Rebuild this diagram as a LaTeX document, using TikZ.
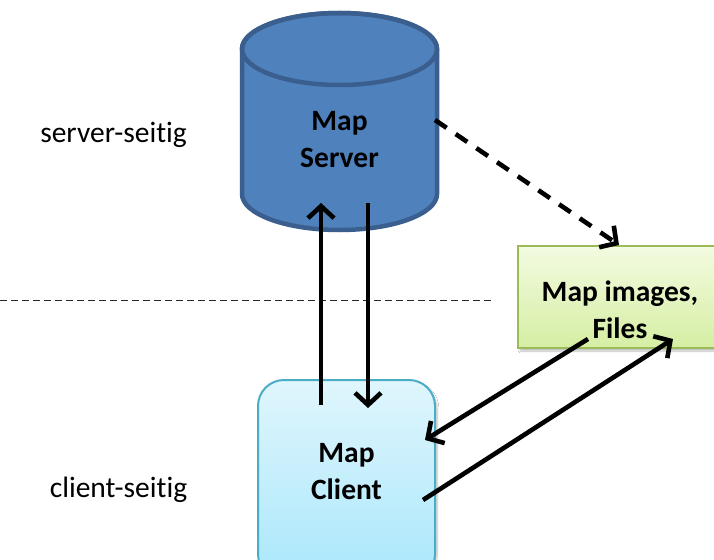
\documentclass[tikz,border=0pt]{standalone}
\usepackage{fontspec}
\setmainfont{Carlito}[Ligatures={NoCommon,NoDiscretionary}]
\usetikzlibrary{arrows.meta,shadows.blur}
\definecolor{cylfill}{HTML}{4F81BD}
\definecolor{cyldraw}{HTML}{3A5F8E}
\definecolor{greendraw}{HTML}{9BBB59}
\definecolor{greentop}{HTML}{F3FBE1}
\definecolor{greenbot}{HTML}{D5EEA3}
\definecolor{clientdraw}{HTML}{4BACC6}
\definecolor{clienttop}{HTML}{E0F6FD}
\definecolor{clientbot}{HTML}{A9E7FB}
\tikzset{
  boldlbl/.style={font=\bfseries\fontsize{29.5}{37}\selectfont, align=center, inner sep=0pt},
  sidelbl/.style={font=\fontsize{29.5}{34}\selectfont, inner sep=0pt},
  flow/.style={line width=4.6pt, -{Straight Barb[length=12pt,width=26pt,line width=4.6pt]}},
  dflow/.style={flow, dash pattern=on 14pt off 11pt},
  greenbox/.style={draw=greendraw, line width=2pt, top color=greentop, bottom color=greenbot,
    minimum width=204pt, minimum height=102pt, inner sep=0pt,
    blur shadow={shadow xshift=2pt, shadow yshift=-3pt, shadow blur steps=8, shadow opacity=25}},
  clientbox/.style={draw=clientdraw, line width=2pt, top color=clienttop, bottom color=clientbot,
    rounded corners=26pt, minimum width=177pt, minimum height=200pt, inner sep=0pt,
    blur shadow={shadow xshift=2pt, shadow yshift=-3pt, shadow blur steps=8, shadow opacity=25}},
}
\begin{document}
\begin{tikzpicture}[x=1pt,y=-1pt]
\clip (0,0) rectangle (714,559);
\fill[white] (0,0) rectangle (714,559);
% cylinder
\draw[draw=cyldraw, fill=cylfill, line width=4.5pt]
  (242,49) -- (242,194) arc[start angle=180, end angle=360, x radius=97.5pt, y radius=36pt]
  -- (437,49) arc[start angle=0, end angle=180, x radius=97.5pt, y radius=36pt] -- cycle;
\draw[draw=cyldraw, line width=4.5pt] (339.5,49) ellipse [x radius=97.5pt, y radius=36pt];
\node[boldlbl] (server) at (339.5,140) {Map\\Server};
% boxes
\node[greenbox] (images) at (620,297) {};
\node[boldlbl] (imagestext) at (620,310) {Map images,\\Files};
\node[clientbox] (client) at (346.5,480) {};
\node[boldlbl] (clienttext) at (346.5,472) {Map\\Client};
% side labels
\node[sidelbl] (srvlbl) at (113.5,135) {server-seitig};
\node[sidelbl] (cltlbl) at (118.5,490) {client-seitig};
% separator
\coordinate (sepA) at (0,300);
\coordinate (sepB) at (492,300);
\draw[line width=1pt, dash pattern=on 7pt off 4pt, black!85] (sepA) -- (sepB);
% arrow endpoints
\coordinate (upS) at (321,405);
\coordinate (upE) at (321,203);
\coordinate (dnS) at (368,203);
\coordinate (dnE) at (368,408);
\coordinate (dsS) at (435,120);
\coordinate (dsE) at (619,245);
\coordinate (a1S) at (588,339);
\coordinate (a1E) at (425,440);
\coordinate (a2S) at (423,500);
\coordinate (a2E) at (673,339);
\draw[flow] (upS) -- (upE);
\draw[flow] (dnS) -- (dnE);
\draw[dflow] (dsS) -- (dsE);
\draw[flow] (a1S) -- (a1E);
\draw[flow] (a2S) -- (a2E);
\end{tikzpicture}
\end{document}
